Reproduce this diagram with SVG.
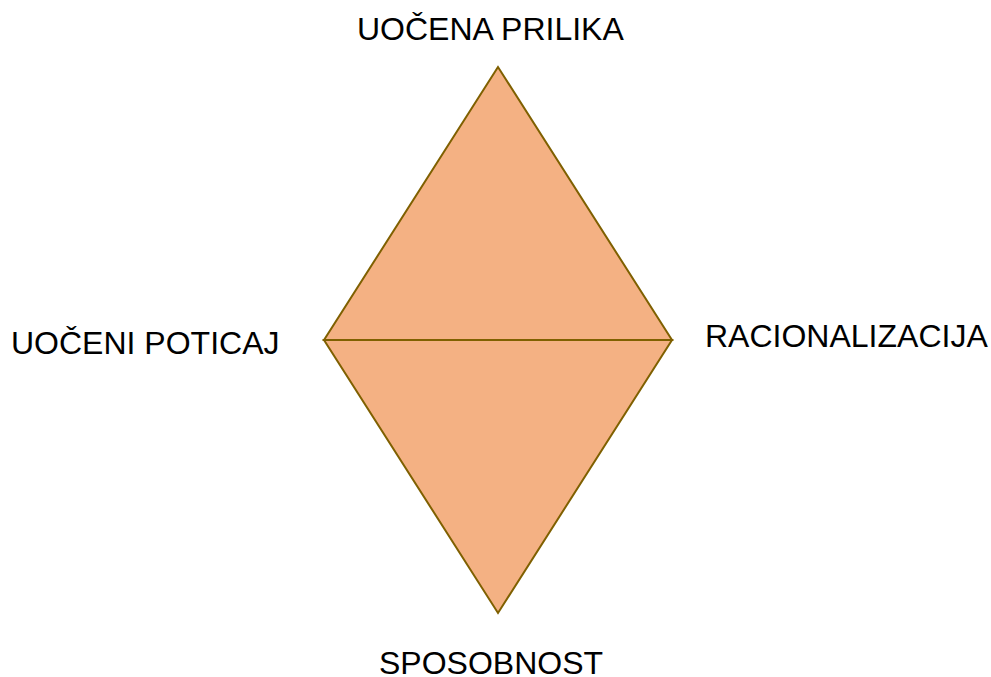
<svg xmlns="http://www.w3.org/2000/svg" width="991" height="677" viewBox="0 0 991 677">
<style>
.tri{fill:#F4B183;stroke:#7F6000;stroke-width:2;stroke-linejoin:miter}
.lbl{font-family:"Liberation Sans",Arial,sans-serif;font-size:32px;fill:#000}
</style>
<rect width="991" height="677" fill="#fff"/>
<g id="upper-triangle"><polygon class="tri" points="498,67 324,340 672,340"/></g>
<g id="lower-triangle"><polygon class="tri" points="324,340 672,340 498,613"/></g>
<g id="label-top"><text class="lbl" x="357" y="40">UOČENA PRILIKA</text></g>
<g id="label-left"><text class="lbl" x="11" y="354">UOČENI POTICAJ</text></g>
<g id="label-right"><text class="lbl" x="705" y="347">RACIONALIZACIJA</text></g>
<g id="label-bottom"><text class="lbl" x="379" y="674">SPOSOBNOST</text></g>
</svg>
